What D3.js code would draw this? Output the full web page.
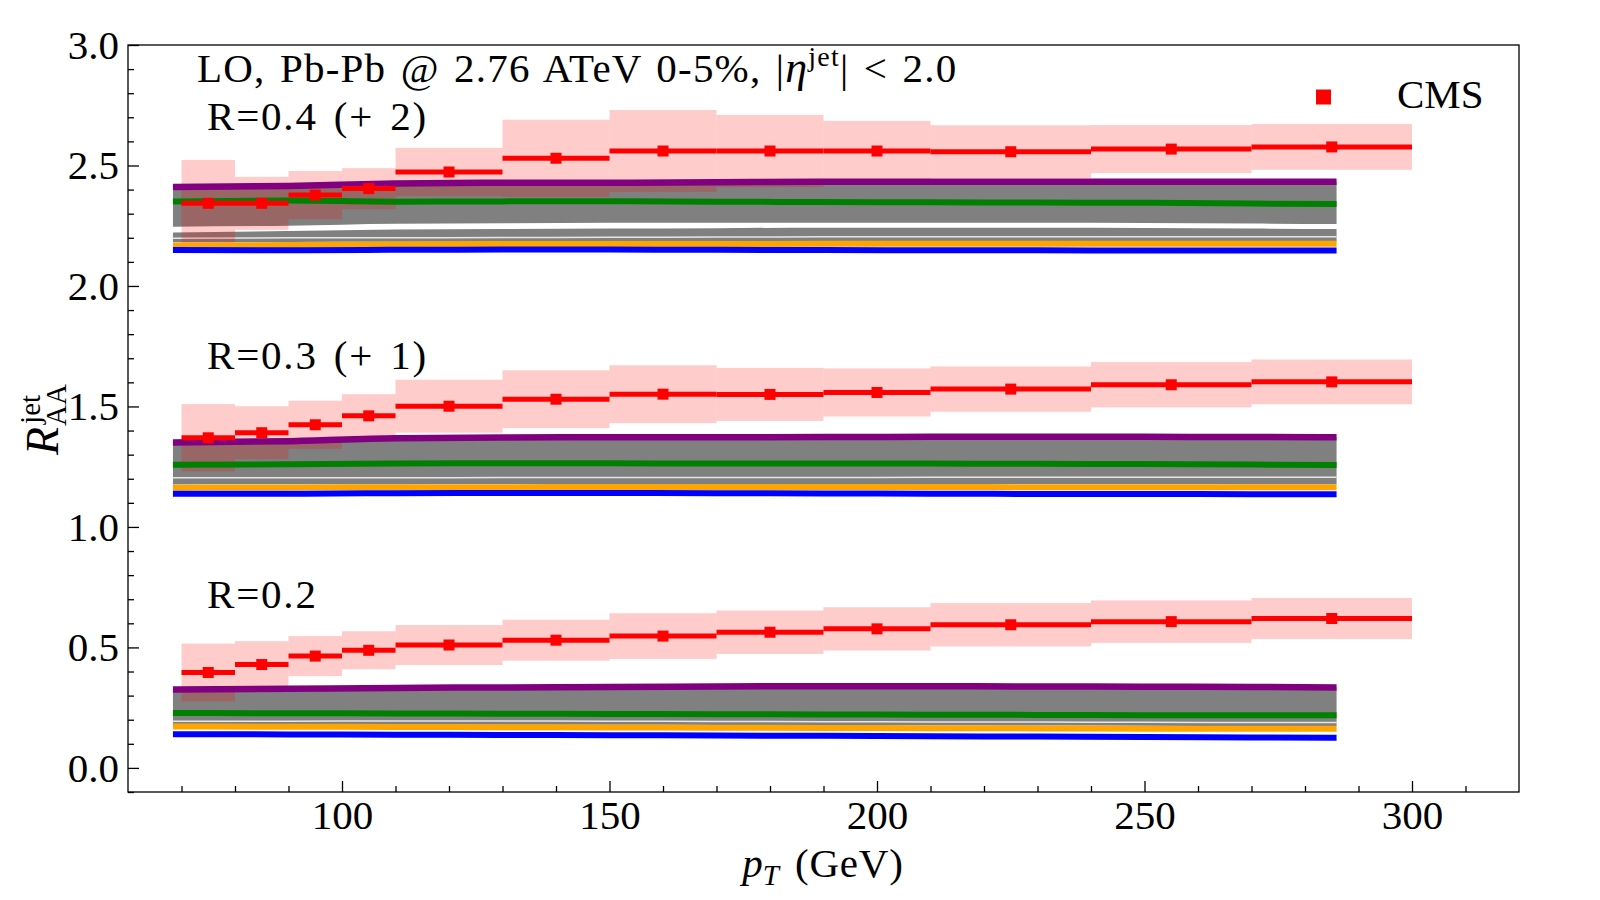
<!DOCTYPE html>
<html>
<head>
<meta charset="UTF-8">
<title>Jet RAA vs pT</title>
<style>
  body { margin: 0; background: #fff; }
  text { font-family: "Liberation Serif", "DejaVu Serif", serif; fill: #000; }
</style>
</head>
<body>
<script src="https://d3js.org/d3.v7.min.js"></script>
<script>
// CMS bins (GeV) and bin centres
var binLo = [70, 80, 90, 100, 110, 130, 150, 170, 190, 210, 240, 270];
var binHi = [80, 90, 100, 110, 130, 150, 170, 190, 210, 240, 270, 300];
var binPt = [75, 85, 95, 105, 120, 140, 160, 180, 200, 225, 255, 285];

// CMS R_AA (no offset) and systematic half-widths
var cms02 = [0.396, 0.429, 0.464, 0.488, 0.510, 0.530, 0.547, 0.563, 0.577, 0.594, 0.607, 0.620];
var err02 = [0.120, 0.097, 0.083, 0.079, 0.083, 0.085, 0.095, 0.090, 0.090, 0.090, 0.088, 0.085];
var cms03 = [0.370, 0.391, 0.424, 0.461, 0.501, 0.530, 0.551, 0.550, 0.558, 0.572, 0.590, 0.602];
var err03 = [0.140, 0.110, 0.100, 0.090, 0.110, 0.120, 0.120, 0.110, 0.100, 0.094, 0.094, 0.093];
var cms04 = [0.343, 0.343, 0.377, 0.404, 0.473, 0.530, 0.560, 0.560, 0.560, 0.557, 0.568, 0.577];
var err04 = [0.180, 0.110, 0.100, 0.085, 0.100, 0.160, 0.170, 0.150, 0.125, 0.110, 0.100, 0.095];

// model curves
var ptModel = [68.4, 90, 110, 130, 150, 170, 190, 210, 230, 250, 270, 285.9];

var purple02 = [0.325, 0.328, 0.332, 0.334, 0.336, 0.338, 0.339, 0.339, 0.338, 0.337, 0.336, 0.334];
var green02  = [0.228, 0.227, 0.226, 0.225, 0.224, 0.223, 0.222, 0.221, 0.220, 0.219, 0.218, 0.218];
var greyLo02 = [0.180, 0.180, 0.180, 0.179, 0.179, 0.178, 0.178, 0.177, 0.176, 0.175, 0.174, 0.174];
var white02  = [0.194, 0.194, 0.195, 0.195, 0.194, 0.193, 0.192, 0.191, 0.190, 0.189, 0.188, 0.188];
var orange02 = [0.172, 0.171, 0.170, 0.169, 0.168, 0.167, 0.166, 0.165, 0.164, 0.163, 0.162, 0.162];
var blue02   = [0.140, 0.139, 0.138, 0.137, 0.136, 0.134, 0.133, 0.131, 0.130, 0.128, 0.126, 0.125];

var purple03 = [0.350, 0.356, 0.368, 0.371, 0.372, 0.372, 0.373, 0.374, 0.374, 0.374, 0.373, 0.372];
var green03  = [0.258, 0.260, 0.263, 0.264, 0.264, 0.263, 0.263, 0.263, 0.262, 0.261, 0.259, 0.257];
var greyLo03 = [0.176, 0.177, 0.177, 0.178, 0.178, 0.178, 0.178, 0.178, 0.178, 0.178, 0.177, 0.177];
var white03  = [0.204, 0.204, 0.204, 0.205, 0.205, 0.205, 0.205, 0.206, 0.206, 0.206, 0.206, 0.206];
var orange03 = [0.163, 0.164, 0.165, 0.165, 0.166, 0.166, 0.166, 0.166, 0.165, 0.165, 0.165, 0.165];
var blue03   = [0.138, 0.138, 0.140, 0.141, 0.141, 0.140, 0.139, 0.138, 0.137, 0.137, 0.136, 0.136];

var purple04 = [0.411, 0.415, 0.425, 0.428, 0.428, 0.430, 0.433, 0.432, 0.433, 0.433, 0.433, 0.433];
var green04  = [0.351, 0.355, 0.350, 0.351, 0.352, 0.350, 0.348, 0.347, 0.346, 0.345, 0.342, 0.340];
var greyLo04 = [0.246, 0.250, 0.258, 0.260, 0.262, 0.262, 0.262, 0.262, 0.262, 0.261, 0.259, 0.257];
var greyHi04b = [0.222, 0.228, 0.234, 0.236, 0.238, 0.240, 0.242, 0.242, 0.242, 0.241, 0.238, 0.236];
var greyLo04b = [0.181, 0.182, 0.183, 0.184, 0.184, 0.184, 0.185, 0.185, 0.185, 0.185, 0.185, 0.185];
var white04  = [0.198, 0.200, 0.200, 0.201, 0.202, 0.203, 0.204, 0.204, 0.204, 0.204, 0.204, 0.204];
var orange04 = [0.168, 0.170, 0.172, 0.174, 0.174, 0.174, 0.175, 0.175, 0.175, 0.175, 0.175, 0.175];
var blue04   = [0.149, 0.148, 0.150, 0.151, 0.151, 0.150, 0.149, 0.148, 0.148, 0.147, 0.147, 0.147];

var xTicks = [100, 150, 200, 250, 300];
var yTicks = [0.0, 0.5, 1.0, 1.5, 2.0, 2.5, 3.0];

var sets = [
  {label: "R=0.2", off: 0, cms: cms02, err: err02, bands: [[purple02, greyLo02]], whites: [white02],
   purple: purple02, green: green02, orange: orange02, blue: blue02, ly: 608},
  {label: "R=0.3 (+ 1)", off: 1, cms: cms03, err: err03, bands: [[purple03, greyLo03]], whites: [white03],
   purple: purple03, green: green03, orange: orange03, blue: blue03, ly: 369},
  {label: "R=0.4 (+ 2)", off: 2, cms: cms04, err: err04, bands: [[purple04, greyLo04], [greyHi04b, greyLo04b]], whites: [white04],
   purple: purple04, green: green04, orange: orange04, blue: blue04, ly: 130}
];

var W = 1600, H = 900;
var margin = {left: 128, top: 45, right: 81, bottom: 108};

var svg = d3.select("body").append("svg")
    .attr("width", W)
    .attr("height", H);

var x = d3.scaleLinear().domain([60, 320]).range([margin.left, W - margin.right]);
var y = d3.scaleLinear().domain([-0.1, 3.0]).range([H - margin.bottom, margin.top]);

var area = d3.area()
    .x(function(d) { return x(d.pt); })
    .y0(function(d) { return y(d.lo); })
    .y1(function(d) { return y(d.hi); })
    .curve(d3.curveMonotoneX);
var line = d3.line()
    .x(function(d) { return x(d.pt); })
    .y(function(d) { return y(d.v); })
    .curve(d3.curveMonotoneX);

var plot = svg.append("g");

sets.forEach(function(s) {
  // grey model bands
  s.bands.forEach(function(b) {
    var pts = ptModel.map(function(p, i) { return {pt: p, hi: b[0][i] + s.off, lo: b[1][i] + s.off}; });
    plot.append("path").attr("d", area(pts)).attr("fill", "#808080");
  });
  s.whites.forEach(function(w) {
    var pts = ptModel.map(function(p, i) { return {pt: p, v: w[i] + s.off}; });
    plot.append("path").attr("d", line(pts)).attr("fill", "none")
      .attr("stroke", "#fff").attr("stroke-width", 1.5).attr("opacity", 0.8);
  });
});

sets.forEach(function(s) {
  // CMS systematic boxes
  plot.selectAll(null).data(s.cms).enter().append("rect")
    .attr("x", function(d, i) { return x(binLo[i]); })
    .attr("width", function(d, i) { return x(binHi[i]) - x(binLo[i]); })
    .attr("y", function(d, i) { return y(d + s.off + s.err[i]); })
    .attr("height", function(d, i) { return y(d + s.off - s.err[i]) - y(d + s.off + s.err[i]); })
    .attr("fill", "#ff0000").attr("fill-opacity", 0.2);
});

sets.forEach(function(s) {
  var curves = [[s.purple, "#800080", 6.5], [s.green, "#008000", 6], [s.orange, "#ffa500", 6], [s.blue, "#0000ff", 6]];
  curves.forEach(function(c) {
    var pts = ptModel.map(function(p, i) { return {pt: p, v: c[0][i] + s.off}; });
    plot.append("path").attr("d", line(pts)).attr("fill", "none")
      .attr("stroke", c[1]).attr("stroke-width", c[2]);
  });
});

sets.forEach(function(s) {
  plot.selectAll(null).data(s.cms).enter().append("line")
    .attr("x1", function(d, i) { return x(binLo[i]); })
    .attr("x2", function(d, i) { return x(binHi[i]); })
    .attr("y1", function(d) { return y(d + s.off); })
    .attr("y2", function(d) { return y(d + s.off); })
    .attr("stroke", "#ff0000").attr("stroke-width", 5);
  plot.selectAll(null).data(s.cms).enter().append("rect")
    .attr("x", function(d, i) { return x(binPt[i]) - 5.5; })
    .attr("y", function(d) { return y(d + s.off) - 5.5; })
    .attr("width", 11).attr("height", 11)
    .attr("fill", "#ff0000");
  svg.append("text").attr("x", 207).attr("y", s.ly)
    .style("font-size", "41px").style("letter-spacing", "1.8px").style("word-spacing", "4px")
    .text(s.label);
});

// axes, ticks pointing inward
var xMinor = d3.range(70, 320, 10).filter(function(v) { return v % 50 !== 0; });
var yMinor = d3.range(-0.1, 3.0, 0.1).map(function(v) { return Math.round(v * 10) / 10; })
    .filter(function(v) { return Math.round(v * 10) % 5 !== 0; });

svg.append("g").attr("transform", "translate(0," + (H - margin.bottom) + ")")
    .call(d3.axisBottom(x).tickValues(xTicks).tickSize(-11).tickPadding(8).tickFormat(d3.format("d")));
svg.append("g").attr("transform", "translate(0," + (H - margin.bottom) + ")")
    .call(d3.axisBottom(x).tickValues(xMinor).tickSize(-6).tickFormat(""));
svg.append("g").attr("transform", "translate(" + margin.left + ",0)")
    .call(d3.axisLeft(y).tickValues(yTicks).tickSize(-11).tickPadding(9).tickFormat(d3.format(".1f")));
svg.append("g").attr("transform", "translate(" + margin.left + ",0)")
    .call(d3.axisLeft(y).tickValues(yMinor).tickSize(-6).tickFormat(""));

svg.selectAll(".domain").remove();
svg.selectAll(".tick line").attr("stroke", "#000").attr("stroke-width", 1.3);
svg.selectAll(".tick text").style("font-size", "41px").style("font-family", "Liberation Serif, DejaVu Serif, serif");

svg.append("rect")
    .attr("x", margin.left).attr("y", margin.top)
    .attr("width", W - margin.right - margin.left)
    .attr("height", H - margin.bottom - margin.top)
    .attr("fill", "none").attr("stroke", "#000").attr("stroke-width", 1.3);

// title
var title = svg.append("text").attr("x", 197).attr("y", 82).style("font-size", "41px")
    .style("letter-spacing", "1.2px").style("word-spacing", "3px");
title.append("tspan").text("LO, Pb-Pb @ 2.76 ATeV 0-5%, |");
title.append("tspan").style("font-style", "italic").style("font-size", "44px").text("η");
title.append("tspan").attr("dy", -16).style("font-size", "28px").text("jet");
title.append("tspan").attr("dy", 16).text("| < 2.0");

// legend
svg.append("rect").attr("x", 1316).attr("y", 89.5).attr("width", 15).attr("height", 15).attr("fill", "#ff0000");
svg.append("text").attr("x", 1397).attr("y", 108).style("font-size", "41px").text("CMS");

// x label
var xl = svg.append("text").attr("x", 823).attr("y", 877).attr("text-anchor", "middle").style("font-size", "41px");
xl.append("tspan").style("font-style", "italic").text("p");
xl.append("tspan").attr("dy", 8).style("font-size", "29px").style("font-style", "italic").text("T");
xl.append("tspan").attr("dy", -8).attr("dx", 16).style("letter-spacing", "0.8px").text("(GeV)");

// y label
var yl = svg.append("g").attr("transform", "translate(58,455) rotate(-90)");
var rt = yl.append("text").attr("x", 0).attr("y", 0).style("font-size", "46px").style("font-style", "italic").text("R");
var rw = rt.node().getComputedTextLength();
yl.append("text").attr("x", rw + 3).attr("y", -18).style("font-size", "29px").text("jet");
yl.append("text").attr("x", rw + 1).attr("y", 8).style("font-size", "29px").text("AA");
</script>
</body>
</html>
